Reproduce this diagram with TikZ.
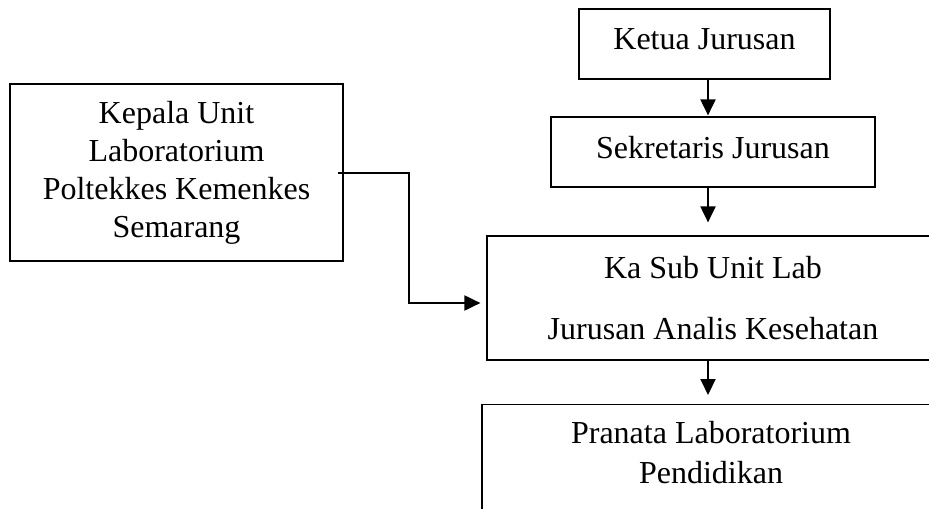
\documentclass[tikz,border=0pt]{standalone}
\usepackage{fontspec}
\setmainfont{Liberation Serif}
\usetikzlibrary{arrows.meta}
\begin{document}
\begin{tikzpicture}[x=0.5pt,y=-0.5pt]
	\tikzstyle{boite}=[draw,line width=0.6pt,align=center,inner sep=0pt,font=\fontsize{16}{19}\selectfont]
	\tikzstyle{fleche}=[line width=1pt,-{Triangle[length=8pt,width=7.5pt]}]
	\def\Colonne{708}
	\def\Coude{409}
	\useasboundingbox (0,0) rectangle (929,508);
	\clip (0,0) rectangle (929,508);
	\coordinate (axe) at (\Colonne,0);
	\coordinate (coude) at (\Coude,0);
	\node[boite,minimum width=166.5pt,minimum height=88.5pt] (Kepala) at (176.5,172.5) {Kepala Unit\\Laboratorium\\Poltekkes Kemenkes\\Semarang};
	\node[boite,minimum width=125.5pt,minimum height=35pt,text depth=5pt] (Ketua) at (704.5,44) {Ketua Jurusan};
	\node[boite,minimum width=162pt,minimum height=35pt,text depth=5pt] (Sekretaris) at (713,152) {Sekretaris Jurusan};
	\node[boite,minimum width=226pt,minimum height=62pt,font=\fontsize{16}{30.5}\selectfont] (KaSub) at (713,298) {Ka Sub Unit Lab\\Jurusan Analis Kesehatan};
	\node[boite,anchor=north,minimum width=229pt,inner ysep=8.5pt,text depth=60pt,font=\fontsize{16}{20}\selectfont] (Pranata) at (711,404) {Pranata Laboratorium\\Pendidikan};
	\coordinate (entree) at ([yshift=-2.5pt]KaSub.west);
	\draw[fleche,shorten >=0.5pt] (Ketua.south -| axe) -- (Sekretaris.north -| axe);
	\draw[fleche,shorten >=6.5pt] (Sekretaris.south -| axe) -- (KaSub.north -| axe);
	\draw[fleche,shorten >=4.5pt] (KaSub.south -| axe) -- (Pranata.north -| axe);
	\draw[fleche,shorten >=3pt] ([xshift=-3pt]Kepala.east) -| (entree -| coude) -- (entree);
\end{tikzpicture}
\end{document}
